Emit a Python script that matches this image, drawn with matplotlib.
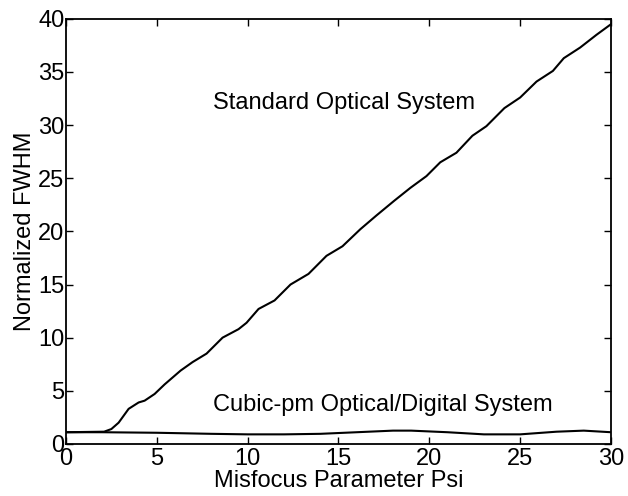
import matplotlib
matplotlib.use("Agg")
import matplotlib.pyplot as plt
import numpy as np

# Values
psi_std = [0, 2.1, 2.5, 2.9, 3.45, 4.0, 4.33, 4.88, 5.43, 6.31, 6.97, 7.74, 8.62,
           9.5, 9.94, 10.6, 11.48, 12.36, 13.35, 14.34, 15.22, 16.2, 17.09, 18.08,
           18.96, 19.84, 20.6, 21.49, 22.37, 23.14, 24.13, 25.0, 25.9, 26.8, 27.4,
           28.3, 29.2, 30.0]
fwhm_std = [1.1, 1.15, 1.4, 2.0, 3.3, 3.9, 4.07, 4.7, 5.6, 6.9, 7.7, 8.5, 10.0,
            10.8, 11.4, 12.7, 13.5, 15.0, 16.0, 17.7, 18.6, 20.2, 21.5, 22.9,
            24.1, 25.2, 26.5, 27.4, 29.0, 29.9, 31.6, 32.6, 34.1, 35.1, 36.3,
            37.3, 38.5, 39.5]

psi_cubic = [0, 2, 5, 8, 10, 12, 14, 16, 18, 19, 21, 23, 25, 27, 28.5, 30]
fwhm_cubic = [1.1, 1.1, 1.05, 0.95, 0.9, 0.9, 0.95, 1.1, 1.25, 1.25, 1.1, 0.9,
              0.9, 1.15, 1.25, 1.1]

xticks = [0, 5, 10, 15, 20, 25, 30]
yticks = [0, 5, 10, 15, 20, 25, 30, 35, 40]

plt.rcParams['font.family'] = ['Liberation Sans', 'DejaVu Sans']
FS = 17

fig = plt.figure(figsize=(6.28, 4.96), dpi=100)
ax = fig.add_axes([0.105, 0.105, 0.868, 0.857])

ax.plot(psi_std, fwhm_std, color='black', linewidth=1.5)
ax.plot(psi_cubic, fwhm_cubic, color='black', linewidth=1.5)

ax.text(8.1, 32.1, 'Standard Optical System', fontsize=FS, va='center', ha='left')
ax.text(8.1, 3.7, 'Cubic-pm Optical/Digital System', fontsize=FS, va='center', ha='left')

ax.set_xlim(0, 30)
ax.set_ylim(0, 40)
ax.set_xticks(xticks)
ax.set_yticks(yticks)
ax.tick_params(direction='in', top=True, right=True, length=5, width=1,
               labelsize=FS)
ax.tick_params(axis='x', pad=3)
ax.tick_params(axis='y', pad=1)
for s in ax.spines.values():
    s.set_linewidth(1.3)

ax.set_xlabel('Misfocus Parameter Psi', fontsize=FS)
ax.set_ylabel('Normalized FWHM', fontsize=FS)
ax.xaxis.set_label_coords(0.5, -0.062)
ax.yaxis.set_label_coords(-0.055, 0.5)

fig.savefig('out.png', dpi=100)
